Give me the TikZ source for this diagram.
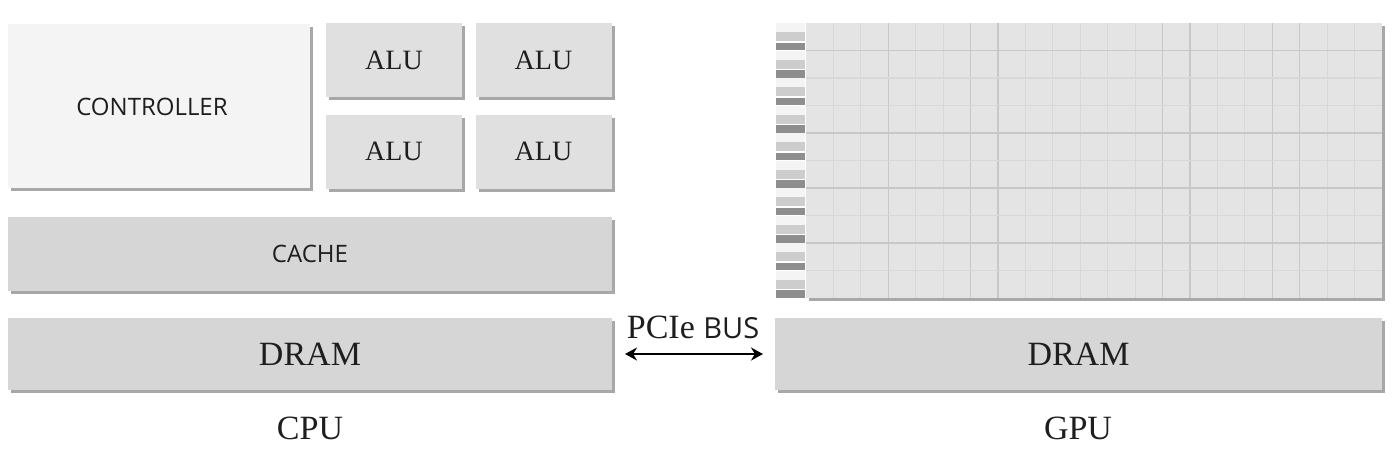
\documentclass[tikz,border=0pt]{standalone}
\usepackage{fontspec}
\setmainfont{Liberation Serif}
\newfontfamily\sansf{Open Sans}
\usetikzlibrary{shadows,arrows.meta}
\definecolor{ctrlfill}{HTML}{F4F4F4}
\definecolor{alufill}{HTML}{E0E0E0}
\definecolor{memfill}{HTML}{D6D6D6}
\definecolor{gridfill}{HTML}{E4E4E4}
\definecolor{gridline}{HTML}{D8D8D8}
\definecolor{gridlinedark}{HTML}{C8C8C8}
\definecolor{shadowc}{HTML}{A8A8A8}
\definecolor{stripelight}{HTML}{CDCDCD}
\definecolor{stripedark}{HTML}{8E8E8E}
\definecolor{stripewhite}{HTML}{F4F4F4}
\definecolor{txt}{HTML}{1E1E1E}
\begin{document}
\begin{tikzpicture}[x=0.5pt,y=-0.5pt,
  blk/.style={draw=none, inner sep=0pt, outer sep=0pt, text=txt,
    drop shadow={shadow xshift=1.5pt, shadow yshift=-1.5pt, fill=shadowc, opacity=1}},
  alubox/.style={blk, fill=alufill, minimum width=68pt, minimum height=37pt,
    font=\fontsize{14}{16}\selectfont},
  membox/.style={blk, fill=memfill, minimum width=302pt, minimum height=37pt},
  sanslbl/.style={font=\sansf\fontsize{12}{14}\selectfont},
  biglbl/.style={font=\fontsize{17}{20}\selectfont, text=txt},
  bus/.style={{Stealth[length=6pt,width=6.5pt]}-{Stealth[length=6pt,width=6.5pt]}, line width=1pt, black}
]
\useasboundingbox (0,0) rectangle (1400,472);

% CPU side
\node[blk, fill=ctrlfill, minimum width=151pt, minimum height=82pt] (ctrl) at (159,106) {};
\node[sanslbl, text=txt] (ctrltxt) at (152,107) {CONTROLLER};
\node[alubox] (alu1) at (394,60) {ALU};
\node[alubox] (alu2) at (543.5,60) {ALU};
\node[alubox] (alu3) at (394,151.5) {ALU};
\node[alubox] (alu4) at (543.5,151.5) {ALU};
\node[membox, sanslbl] (cache) at (310,254) {CACHE};
\node[membox, minimum height=36pt, biglbl] (dram1) at (310,354) {DRAM};
\node[biglbl] (cpu) at (310,428) {CPU};

% GPU side
\node[blk, fill=gridfill, minimum width=288pt, minimum height=137.5pt] (grid) at (1094,160.5) {};
\foreach \k in {1,...,20}{
  \pgfmathsetmacro{\xx}{806+27.4286*\k}
  \ifnum\k=3 \def\lc{gridlinedark}\else\ifnum\k=6 \def\lc{gridlinedark}\else\ifnum\k=7 \def\lc{gridlinedark}\else\ifnum\k=13 \def\lc{gridlinedark}\else\ifnum\k=14 \def\lc{gridlinedark}\else\ifnum\k=17 \def\lc{gridlinedark}\else\ifnum\k=18 \def\lc{gridlinedark}\else\def\lc{gridline}\fi\fi\fi\fi\fi\fi\fi
  \draw[\lc, line width=0.6pt] (\xx,23) -- (\xx,298);
}
\foreach \k in {1,...,9}{
  \pgfmathsetmacro{\yy}{23+27.5*\k}
  \ifnum\k=1 \def\lc{gridlinedark}\else\ifnum\k=4 \def\lc{gridlinedark}\else\ifnum\k=6 \def\lc{gridlinedark}\else\ifnum\k=8 \def\lc{gridlinedark}\else\def\lc{gridline}\fi\fi\fi\fi
  \draw[\lc, line width=0.6pt] (806,\yy) -- (1382,\yy);
}
\foreach \k in {0,...,9}{
  \pgfmathsetmacro{\yt}{23+27.5*\k}
  \fill[stripewhite] (776,\yt) rectangle (805,\yt+9);
  \fill[stripelight] (776,\yt+9) rectangle (805,\yt+18);
  \fill[stripedark] (776,\yt+19.5) rectangle (805,\yt+27);
}
\node[membox, minimum width=303.5pt, minimum height=36pt, biglbl] (dram2) at (1078.5,354) {DRAM};
\node[biglbl] (gpu) at (1078,428) {GPU};

% bus
\draw[bus, shorten <=6.5pt, shorten >=6pt] (dram1.east) -- (dram2.west);
\node[text=txt] (pcie) at (693,327) {\fontsize{17}{19}\selectfont PCIe {\sansf\fontsize{14.5}{17}\selectfont BUS}};
\end{tikzpicture}
\end{document}
